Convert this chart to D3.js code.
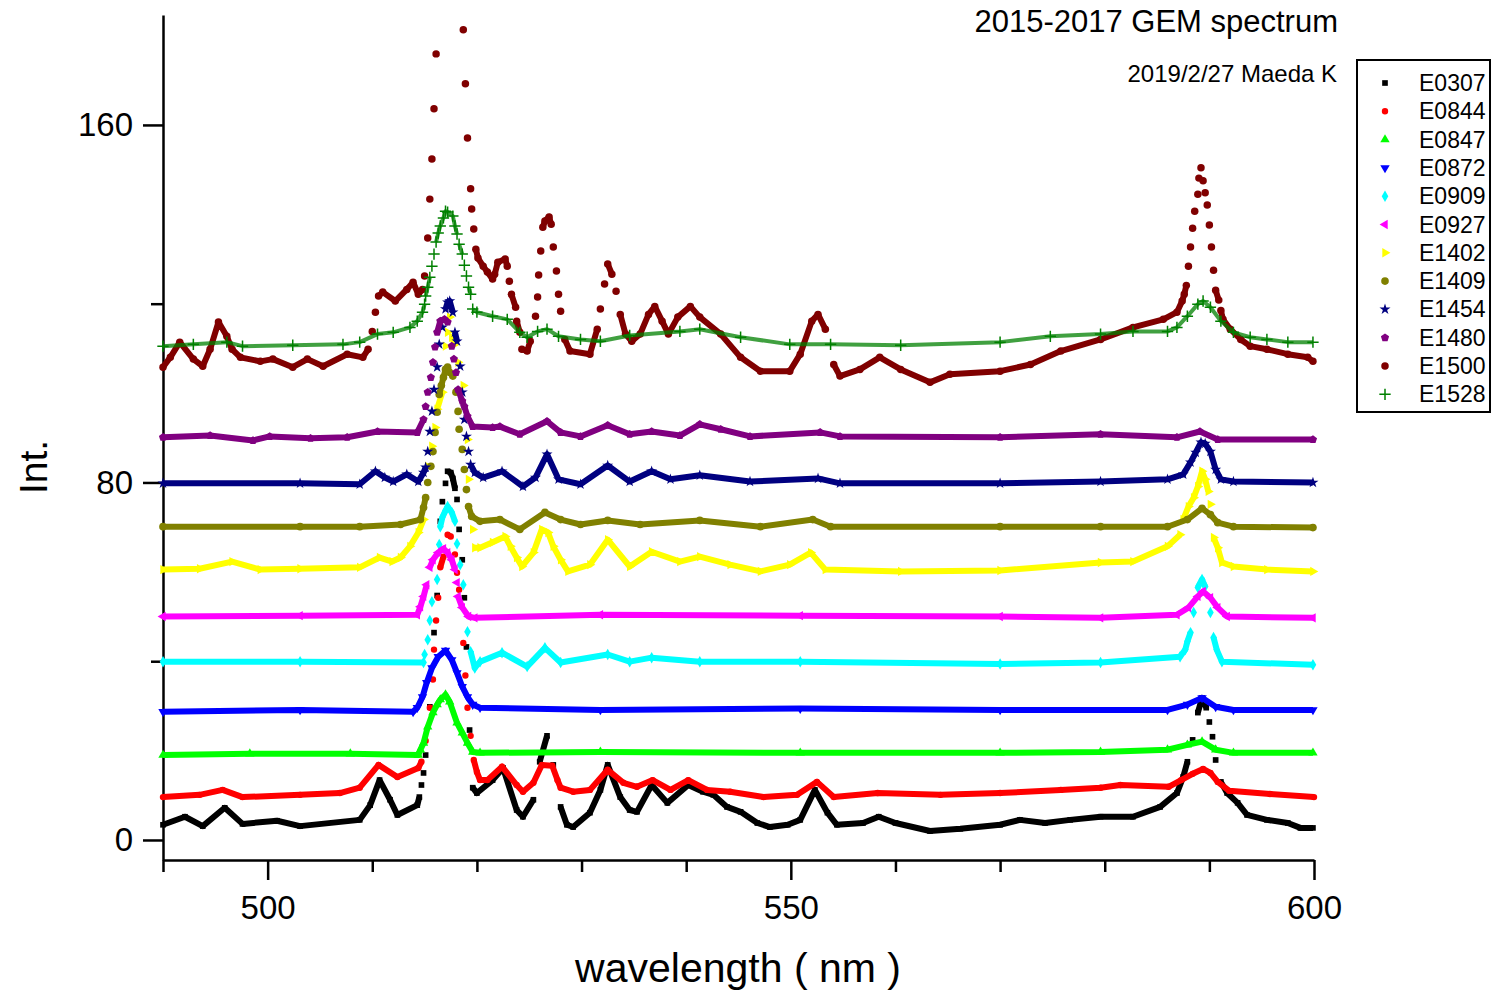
<!DOCTYPE html>
<html>
<head>
<meta charset="utf-8">
<script src="https://cdnjs.cloudflare.com/ajax/libs/d3/7.8.5/d3.min.js"></script>
<style>
body { margin: 0; background: #fff; }
text { font-family: "Liberation Sans", Arial, sans-serif; fill: #000; }
</style>
</head>
<body>
<div id="chart"></div>
<script>
// series names (legend order)
var seriesNames = ["E0307", "E0844", "E0847", "E0872", "E0909", "E0927", "E1402", "E1409", "E1454", "E1480", "E1500", "E1528"];

var xMajorTicks = [500, 550, 600];
var xMinorTicks = [490, 510, 520, 530, 540, 560, 570, 580, 590];
var yMajorTicks = [0, 80, 160];
var yMinorTicks = [40, 120];

// [wavelength nm, intensity]
var e0307 = [[490.0,3.4],[492.1,5.2],[493.8,3.1],[495.9,7.2],[497.6,3.6],[500.9,4.3],[503.1,3.1],[508.8,4.5],[509.8,7.8],[510.7,13.4],[511.7,9.0],[512.4,5.6],[514.3,7.8],[514.5,9.6],[514.7,12.3],[514.9,15.0],[515.1,19.0],[515.5,29.8],[515.9,46.4],[516.2,54.7],[516.5,71.3],[516.7,75.7],[517.0,79.8],[517.2,82.5],[517.5,82.2],[517.7,80.9],[517.9,78.7],[518.1,76.2],[518.3,69.5],[518.6,62.7],[518.8,54.2],[519.0,43.2],[519.3,24.6],[519.6,11.7],[520.0,10.5],[521.5,13.4],[522.5,16.1],[523.8,6.7],[524.4,5.2],[525.4,9.0],[526.0,17.5],[526.7,23.3],[527.3,16.8],[528.0,7.4],[528.6,3.4],[529.2,2.9],[530.8,6.1],[531.8,11.2],[532.5,16.8],[533.7,9.6],[534.6,6.7],[535.3,6.3],[536.7,12.3],[538.2,8.3],[540.2,12.3],[541.6,10.8],[542.6,10.1],[543.9,7.4],[545.2,6.3],[546.8,3.8],[548.0,2.9],[549.7,3.4],[550.9,4.5],[552.3,11.2],[553.5,6.1],[554.4,3.4],[556.9,3.8],[558.4,5.2],[560.0,3.8],[563.3,2.0],[566.2,2.5],[570.0,3.4],[571.9,4.5],[574.3,3.8],[576.7,4.5],[579.6,5.2],[582.7,5.2],[585.3,7.4],[586.9,10.5],[587.5,14.1],[587.9,17.5],[588.4,22.4],[588.9,28.5],[589.3,31.8],[589.7,29.6],[590.0,26.4],[590.3,23.1],[590.6,17.9],[591.1,13.0],[591.7,10.5],[592.7,8.3],[593.6,5.6],[595.5,4.5],[597.5,3.8],[598.7,2.7],[599.9,2.7]];

var e0844 = [[490.0,9.6],[493.5,10.1],[495.7,11.2],[497.6,9.6],[503.1,10.1],[506.9,10.5],[508.8,11.7],[510.6,16.8],[512.4,14.1],[514.4,16.1],[514.7,17.5],[515.1,22.2],[515.5,29.6],[515.8,35.9],[515.9,42.6],[516.1,49.1],[516.3,54.2],[516.5,61.0],[516.8,63.4],[517.2,68.3],[517.5,67.9],[517.9,63.9],[518.1,59.8],[518.3,56.0],[518.7,44.1],[518.9,36.8],[519.1,29.6],[519.4,23.3],[519.7,17.9],[520.0,15.2],[520.3,13.4],[521.0,13.4],[522.4,16.4],[523.8,12.3],[524.4,10.8],[525.4,12.8],[526.2,16.8],[527.2,16.6],[527.7,13.4],[528.0,11.7],[529.2,10.8],[530.8,11.2],[532.5,15.7],[534.0,12.8],[535.3,11.9],[536.8,13.4],[538.5,11.2],[540.2,13.4],[542.0,11.2],[544.2,10.8],[547.4,9.6],[550.6,10.1],[552.5,13.0],[554.1,9.6],[558.3,10.5],[564.3,10.1],[570.0,10.5],[575.8,11.2],[579.6,11.7],[581.5,12.3],[586.1,11.9],[587.3,13.4],[588.4,14.8],[589.4,15.9],[590.1,15.0],[590.8,13.0],[591.9,11.0],[595.8,10.3],[600.0,9.6]];

var e0847 = [[490.0,19.0],[498.3,19.3],[507.9,19.3],[514.4,19.0],[514.6,20.2],[514.9,21.7],[515.3,25.3],[515.8,28.5],[516.2,30.3],[516.5,31.4],[517.0,32.5],[517.4,30.9],[518.1,26.2],[518.6,24.0],[519.1,21.7],[519.6,19.7],[520.3,19.5],[531.8,19.7],[550.9,19.5],[570.0,19.5],[579.6,19.7],[586.0,20.2],[587.9,21.3],[589.3,22.0],[590.6,20.2],[592.3,19.5],[599.9,19.5]];

var e0872 = [[490.0,28.7],[503.1,29.1],[513.9,28.7],[514.3,29.6],[514.8,32.0],[515.2,35.2],[515.7,38.5],[516.3,41.0],[517.0,42.4],[517.6,40.3],[518.1,37.4],[518.6,34.3],[519.1,32.0],[519.6,30.3],[520.3,29.6],[531.8,29.1],[550.9,29.4],[570.0,29.1],[586.0,29.1],[587.9,30.3],[589.3,31.8],[590.6,29.8],[592.3,29.1],[599.9,29.1]];

var e0909 = [[490.0,39.9],[503.1,39.9],[514.9,39.7],[515.0,41.5],[515.3,44.8],[515.5,49.1],[515.7,53.3],[516.2,58.3],[516.4,66.1],[516.5,70.1],[516.7,72.2],[517.0,73.7],[517.2,74.6],[517.6,73.3],[517.9,71.3],[518.1,66.3],[518.4,61.6],[518.7,57.1],[519.1,46.6],[519.4,42.1],[519.8,38.5],[520.3,39.9],[522.4,41.9],[524.8,38.8],[526.5,43.0],[528.0,39.7],[532.5,41.5],[534.6,39.9],[536.7,40.8],[541.3,39.9],[550.9,39.9],[570.0,39.4],[579.6,39.7],[587.2,41.0],[587.7,42.6],[587.9,44.4],[588.2,46.4],[588.5,50.9],[588.9,56.5],[589.3,58.3],[589.6,56.7],[590.1,50.9],[590.4,45.3],[590.7,42.6],[591.2,39.9],[599.9,39.2]];

var e0927 = [[490.0,50.0],[503.1,50.2],[514.3,50.4],[514.6,52.2],[514.9,54.5],[515.2,57.1],[515.5,61.0],[515.8,62.7],[516.3,64.3],[516.8,65.2],[517.2,64.3],[517.6,62.7],[517.9,60.5],[518.1,57.6],[518.2,54.5],[518.6,52.0],[519.2,50.0],[519.8,49.7],[531.8,50.4],[550.9,50.2],[570.0,50.0],[579.6,49.7],[586.9,50.4],[588.0,52.0],[588.9,54.5],[589.4,55.6],[590.1,54.2],[590.8,52.0],[591.7,50.0],[599.9,49.7]];

var e1402 = [[490.0,60.5],[493.5,60.7],[496.6,62.3],[499.3,60.5],[503.1,60.7],[508.8,61.0],[510.7,63.2],[511.9,62.3],[512.7,63.2],[513.6,65.7],[514.4,68.8],[514.9,71.7],[515.3,83.6],[515.7,88.1],[516.0,92.3],[516.2,96.4],[516.7,100.2],[517.0,110.5],[517.2,113.6],[517.4,117.0],[517.6,112.5],[517.9,110.9],[518.2,106.9],[518.7,101.7],[519.1,89.6],[519.2,80.7],[519.6,69.5],[519.8,65.4],[520.3,65.4],[521.5,66.6],[522.7,67.9],[523.2,65.7],[523.8,63.2],[524.3,61.2],[525.4,64.3],[526.2,69.5],[526.8,68.8],[527.3,65.7],[528.0,62.7],[528.7,60.1],[530.8,61.6],[532.5,67.2],[534.6,61.2],[536.7,64.5],[539.4,62.3],[541.3,63.4],[544.2,61.6],[547.1,60.1],[549.9,61.6],[551.9,64.3],[553.3,60.5],[560.5,60.1],[570.0,60.3],[579.6,62.1],[582.7,62.3],[586.0,65.7],[587.2,68.3],[587.5,71.7],[588.0,74.6],[588.5,76.6],[588.9,79.1],[589.3,82.5],[589.6,80.7],[589.9,78.0],[590.1,75.1],[590.4,67.7],[590.8,65.4],[591.2,62.1],[592.3,61.2],[595.5,60.5],[599.9,60.1]];

var e1409 = [[490.0,70.1],[503.1,70.1],[508.8,70.1],[512.7,70.6],[514.6,71.7],[514.9,74.4],[515.1,76.6],[515.3,80.0],[515.6,83.6],[515.8,86.9],[516.0,91.2],[516.2,95.7],[516.4,99.7],[516.6,101.7],[516.8,103.5],[517.0,105.3],[517.2,105.8],[517.4,104.6],[517.7,103.8],[518.0,100.2],[518.2,95.9],[518.3,91.9],[518.6,87.4],[518.8,82.9],[519.0,78.4],[519.2,74.6],[519.5,72.4],[520.3,71.3],[522.2,71.7],[524.1,69.5],[526.5,73.3],[528.0,71.7],[529.9,70.6],[532.5,71.5],[535.6,70.6],[541.3,71.5],[547.1,70.1],[552.1,71.7],[553.8,70.1],[570.0,70.1],[579.6,70.1],[586.0,70.1],[587.9,71.7],[589.3,74.2],[590.1,72.8],[590.8,71.0],[592.3,70.1],[599.9,69.9]];

var e1454 = [[490.0,79.8],[503.1,79.8],[508.8,79.6],[510.3,82.5],[511.2,81.1],[512.0,80.2],[513.3,81.8],[514.4,80.2],[514.9,82.2],[515.1,83.4],[515.3,86.9],[515.5,91.4],[515.7,95.9],[515.9,100.8],[516.2,105.8],[516.4,110.9],[516.7,114.7],[517.0,118.8],[517.2,120.3],[517.4,120.6],[517.7,118.1],[517.9,113.6],[518.1,111.6],[518.4,106.0],[518.6,100.2],[518.8,94.1],[519.0,90.3],[519.2,86.9],[519.4,84.0],[519.8,82.2],[520.6,81.1],[522.4,82.5],[524.4,79.1],[525.6,81.1],[526.7,86.3],[527.8,80.7],[529.9,79.6],[532.5,83.8],[534.6,80.2],[536.7,82.5],[538.5,80.7],[541.3,81.6],[546.1,80.2],[552.6,80.9],[554.7,79.8],[570.0,79.8],[579.6,80.2],[586.0,80.7],[587.5,81.8],[588.2,84.5],[588.7,86.7],[589.2,89.0],[589.6,88.7],[590.1,86.9],[590.6,82.9],[591.1,80.7],[592.3,80.2],[599.9,80.0]];

var e1480 = [[490.0,90.1],[494.5,90.5],[498.6,89.4],[500.2,90.3],[504.1,89.9],[507.6,90.1],[510.5,91.4],[514.3,91.2],[514.9,94.1],[515.1,97.0],[515.3,100.2],[515.6,103.5],[515.8,106.9],[516.0,110.3],[516.2,113.6],[516.5,116.1],[516.9,116.5],[517.2,115.9],[517.6,110.5],[517.8,107.6],[518.0,104.6],[518.2,100.8],[518.6,98.2],[518.8,97.0],[519.1,94.8],[519.6,92.5],[521.5,92.3],[522.2,92.5],[524.1,90.8],[526.7,93.7],[528.0,91.2],[529.9,90.3],[532.5,92.8],[534.6,90.8],[536.7,91.4],[539.4,90.5],[541.3,93.0],[543.3,91.9],[546.1,90.3],[552.8,91.2],[554.7,90.3],[570.0,90.1],[579.6,90.8],[586.9,90.1],[589.1,91.4],[590.8,89.6],[599.9,89.6]];

var e1500 = [[490.0,105.8],[490.7,108.0],[491.6,111.4],[492.9,107.6],[493.8,106.0],[494.5,109.8],[495.3,115.9],[496.1,112.7],[496.6,109.8],[497.4,108.0],[499.3,107.1],[500.5,107.6],[502.4,105.8],[503.8,107.6],[505.3,106.0],[507.6,108.7],[509.1,108.0],[509.6,109.8],[510.0,113.8],[510.3,118.1],[510.6,121.7],[511.0,122.6],[512.2,120.6],[513.3,123.2],[513.9,124.8],[514.4,122.1],[514.8,123.2],[515.0,126.2],[515.3,134.7],[515.5,143.4],[515.7,152.4],[515.9,163.6],[516.1,175.9],[518.7,181.3],[518.9,169.2],[519.1,157.1],[519.4,145.7],[519.5,141.2],[519.7,136.7],[519.9,132.2],[520.1,130.2],[520.6,128.4],[521.0,127.1],[521.5,125.5],[521.7,126.6],[522.0,129.3],[522.7,130.0],[522.9,128.4],[523.1,125.0],[523.3,122.1],[523.7,119.2],[523.8,116.1],[524.1,113.6],[524.3,109.8],[524.8,109.4],[525.1,111.6],[525.6,117.2],[525.8,121.5],[525.9,126.4],[526.1,131.8],[526.3,137.1],[526.5,138.5],[526.9,139.4],[527.1,137.8],[527.3,132.7],[527.6,127.3],[527.8,122.1],[528.0,118.3],[528.4,112.0],[528.9,109.4],[530.8,108.7],[531.5,114.3],[531.8,118.8],[532.2,124.4],[532.5,128.9],[532.9,126.6],[533.3,122.8],[533.7,117.6],[534.2,113.2],[534.8,111.6],[535.6,113.2],[536.4,117.6],[537.0,119.4],[537.7,116.1],[538.3,113.2],[539.2,117.0],[540.4,119.4],[541.3,117.0],[543.3,113.2],[545.2,108.0],[547.1,104.9],[549.9,104.9],[550.9,108.7],[552.0,116.1],[552.6,117.6],[553.3,114.3],[554.1,106.4],[554.7,103.8],[556.6,105.3],[558.5,108.0],[560.5,105.3],[563.3,102.4],[565.2,104.2],[570.0,104.9],[572.9,106.4],[575.8,109.4],[579.6,112.0],[582.7,114.7],[585.6,116.5],[586.9,118.1],[587.4,120.6],[587.6,122.1],[587.8,124.1],[588.0,128.4],[588.2,132.7],[588.4,136.9],[588.6,140.7],[588.9,144.5],[589.0,148.1],[589.2,150.4],[589.4,147.5],[589.6,144.8],[589.8,142.1],[590.0,137.6],[590.2,132.7],[590.4,127.5],[590.6,123.0],[590.9,120.8],[591.1,118.5],[591.3,116.5],[592.0,114.3],[593.0,112.0],[593.9,110.5],[595.5,109.8],[597.5,108.7],[599.4,108.0],[599.9,107.1]];

var e1528 = [[490.0,110.5],[492.9,110.9],[496.1,111.4],[497.6,110.5],[502.4,110.7],[507.2,110.9],[508.8,111.4],[510.5,113.2],[512.0,113.6],[513.6,114.7],[514.3,116.1],[514.8,118.1],[515.0,119.9],[515.1,121.7],[515.3,123.7],[515.5,125.9],[515.7,128.4],[515.9,131.1],[516.1,133.8],[516.3,135.8],[516.5,137.4],[516.8,139.2],[517.0,140.7],[517.2,140.5],[517.7,139.6],[517.9,137.4],[518.1,135.6],[518.3,133.3],[518.6,131.1],[518.8,128.6],[519.0,126.2],[519.2,123.7],[519.4,122.1],[519.6,118.8],[520.0,118.1],[521.5,117.2],[522.9,116.5],[524.1,113.6],[524.8,112.5],[525.8,113.8],[526.7,114.3],[527.8,112.7],[529.9,112.0],[531.8,111.6],[534.6,112.9],[539.4,113.8],[541.3,114.3],[545.2,112.5],[549.9,110.9],[553.8,110.9],[560.5,110.7],[570.0,111.4],[574.8,112.7],[579.6,113.2],[582.7,113.8],[586.0,113.8],[586.9,114.7],[587.9,117.2],[588.9,119.9],[589.4,120.6],[590.1,119.2],[591.1,116.1],[592.3,113.6],[593.9,112.5],[595.5,112.0],[597.5,111.4],[599.9,111.4]];

var seriesData = [e0307, e0844, e0847, e0872, e0909, e0927, e1402, e1409, e1454, e1480, e1500, e1528];

(function() {
    var svgWidth = 1495;
    var svgHeight = 993;
    var svg = d3.select('#chart').append('svg')
        .attr("width", svgWidth)
        .attr("height", svgHeight);

    var colors = ["#000000", "#ff0000", "#00ff00", "#0000ff", "#00ffff", "#ff00ff", "#ffff00", "#808000", "#000080", "#800080", "#800000", "#008000"];

    // pentagon, d3 has none
    var symbolPentagon = {
        draw: function(ctx, size) {
            var r = Math.sqrt(size / 2.378);
            for (var i = 0; i < 5; i++) {
                var a = -Math.PI / 2 + i * 2 * Math.PI / 5;
                if (i === 0) ctx.moveTo(r * Math.cos(a), r * Math.sin(a));
                else ctx.lineTo(r * Math.cos(a), r * Math.sin(a));
            }
            ctx.closePath();
        }
    };
    var plus = d3.symbolPlus || d3.symbolCross;

    // marker type, rotation, size
    var markers = [
        { type: d3.symbolSquare, rot: 0, size: 32 },
        { type: d3.symbolCircle, rot: 0, size: 32 },
        { type: d3.symbolTriangle, rot: 0, size: 38 },
        { type: d3.symbolTriangle, rot: 180, size: 38 },
        { type: d3.symbolDiamond, rot: 0, size: 38 },
        { type: d3.symbolTriangle, rot: -90, size: 38 },
        { type: d3.symbolTriangle, rot: 90, size: 38 },
        { type: d3.symbolCircle, rot: 0, size: 46 },
        { type: d3.symbolStar, rot: 0, size: 38 },
        { type: symbolPentagon, rot: 0, size: 44 },
        { type: d3.symbolCircle, rot: 0, size: 44 },
        { type: plus, rot: 0, size: 44, stroke: true }
    ];

    var x = d3.scaleLinear().domain([490, 600]).range([163, 1314]);
    var y = d3.scaleLinear().domain([-4.48, 184.6]).range([860, 15]);

    // axes
    svg.append('g').attr('transform', 'translate(0,860)')
        .call(d3.axisBottom(x).tickValues(xMajorTicks).tickSize(20).tickSizeOuter(0).tickPadding(16).tickFormat(d3.format('d')));
    svg.append('g').attr('transform', 'translate(0,860)')
        .call(d3.axisBottom(x).tickValues(xMinorTicks).tickSize(12).tickSizeOuter(0).tickFormat(''))
        .select('.domain').remove();
    svg.append('g').attr('transform', 'translate(163,0)')
        .call(d3.axisLeft(y).tickValues(yMajorTicks).tickSize(20).tickSizeOuter(0).tickPadding(10).tickFormat(d3.format('d')));
    svg.append('g').attr('transform', 'translate(163,0)')
        .call(d3.axisLeft(y).tickValues(yMinorTicks).tickSize(12).tickSizeOuter(0).tickFormat(''))
        .select('.domain').remove();
    svg.selectAll('.domain, .tick line').attr('stroke', '#000').attr('stroke-width', 2.5);
    svg.selectAll('.tick text').style('font-size', '33px').style('font-family', '"Liberation Sans", Arial, sans-serif');

    // axis titles
    svg.append('text')
        .attr('x', 738).attr('y', 982)
        .attr('text-anchor', 'middle')
        .style('font-size', '41px')
        .text('wavelength ( nm )');
    svg.append('text')
        .attr('transform', 'translate(47,467) rotate(-90)')
        .attr('text-anchor', 'middle')
        .style('font-size', '39px')
        .text('Int.');

    // titles
    svg.append('text')
        .attr('x', 1338).attr('y', 32)
        .attr('text-anchor', 'end')
        .style('font-size', '31px')
        .text('2015-2017 GEM spectrum');
    svg.append('text')
        .attr('x', 1337).attr('y', 82)
        .attr('text-anchor', 'end')
        .style('font-size', '24px')
        .text('2019/2/27 Maeda K');

    var line = d3.line()
        .x(function(d) { return x(d[0]); })
        .y(function(d) { return y(d[1]); });

    // join neighbouring points unless the step is steep, or long and tall
    // (the original is dense dots, which only part on steep flanks)
    function runs(data) {
        var out = [];
        var cur = [data[0]];
        for (var i = 1; i < data.length; i++) {
            var dx = Math.abs(x(data[i][0]) - x(data[i - 1][0]));
            var dy = Math.abs(y(data[i][1]) - y(data[i - 1][1]));
            if (dy <= 3 * dx + 4 && !(dx > 24 && dy > 20)) {
                cur.push(data[i]);
            } else {
                out.push(cur);
                cur = [data[i]];
            }
        }
        out.push(cur);
        return out.filter(function(r) { return r.length > 1; });
    }

    function markerPath(m) {
        return d3.symbol().type(m.type).size(m.size)();
    }

    var plot = svg.append('g');
    for (var s = 0; s < seriesData.length; s++) {
        var g = plot.append('g').attr('class', 'series');
        var m = markers[s];
        var thin = (s === 11);
        g.selectAll('path.band')
            .data(runs(seriesData[s]))
            .enter().append('path')
            .attr('class', 'band')
            .attr('d', line)
            .attr('fill', 'none')
            .attr('stroke', colors[s])
            .attr('stroke-opacity', thin ? 0.75 : 1)
            .attr('stroke-width', thin ? 4 : 6)
            .attr('stroke-linejoin', 'round');
        g.selectAll('path.pt')
            .data(seriesData[s])
            .enter().append('path')
            .attr('class', 'pt')
            .attr('d', markerPath(m))
            .attr('transform', function(d) { return 'translate(' + x(d[0]) + ',' + y(d[1]) + ') rotate(' + m.rot + ')'; })
            .attr('fill', m.stroke ? 'none' : colors[s])
            .attr('stroke', m.stroke ? colors[s] : 'none')
            .attr('stroke-width', m.stroke ? 1.5 : 0);
    }

    // legend
    var legend = svg.append('g');
    legend.append('rect')
        .attr('x', 1357).attr('y', 60)
        .attr('width', 133).attr('height', 352)
        .attr('fill', '#fff')
        .attr('stroke', '#000')
        .attr('stroke-width', 2);
    var rows = legend.selectAll('g.row')
        .data(seriesNames)
        .enter().append('g')
        .attr('class', 'row')
        .attr('transform', function(d, i) { return 'translate(0,' + (83 + i * 28.3) + ')'; });
    rows.append('path')
        .attr('d', function(d, i) { return markerPath(markers[i]); })
        .attr('transform', function(d, i) { return 'translate(1385,0) rotate(' + markers[i].rot + ')'; })
        .attr('fill', function(d, i) { return markers[i].stroke ? 'none' : colors[i]; })
        .attr('stroke', function(d, i) { return markers[i].stroke ? colors[i] : 'none'; })
        .attr('stroke-width', 1.5);
    rows.append('text')
        .attr('x', 1419).attr('y', 8)
        .style('font-size', '23px')
        .text(function(d) { return d; });
})();
</script>
</body>
</html>
